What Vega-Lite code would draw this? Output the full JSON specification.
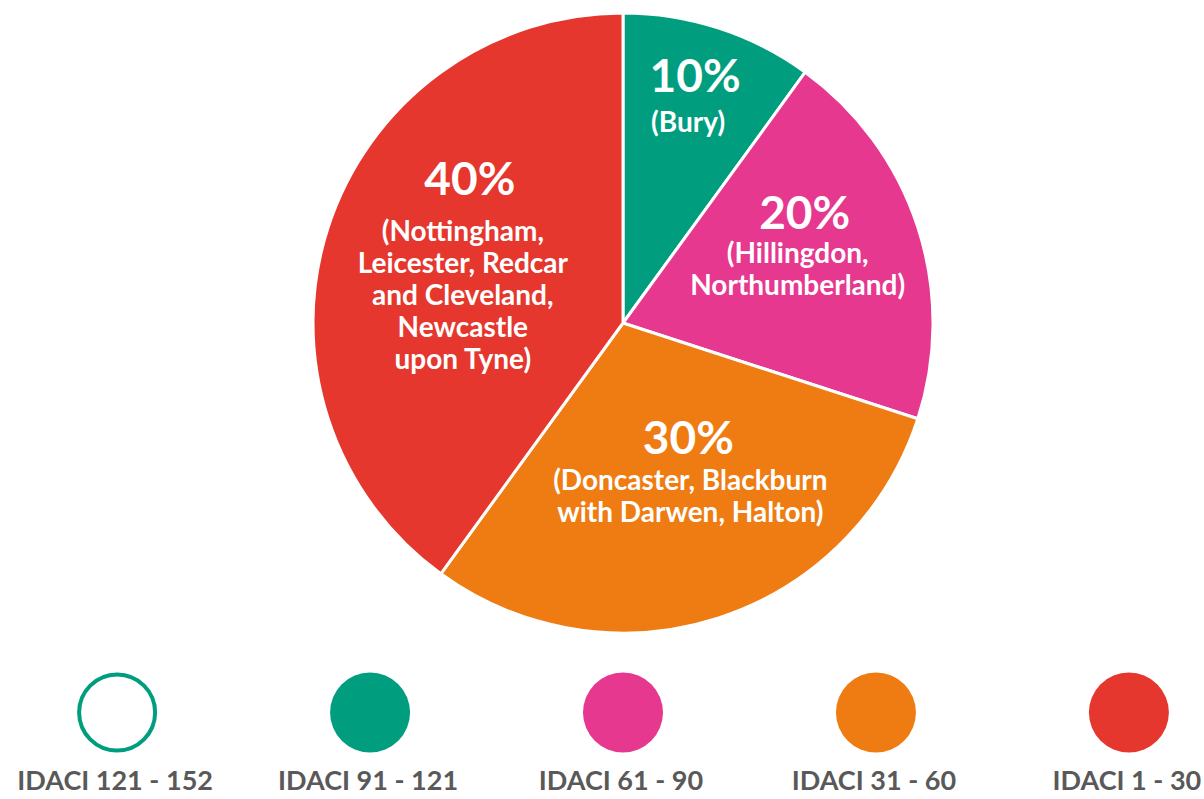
{
  "$schema": "https://vega.github.io/schema/vega-lite/v6.json",
  "background": "white",
  "padding": 0,
  "spacing": 0,
  "config": {"view": {"stroke": null}, "font": "Lato"},
  "datasets": {
    "idaci": [
      {"group": "IDACI 121 - 152", "pct": 0, "label": "0%", "areas": []},
      {"group": "IDACI 91 - 121", "pct": 10, "label": "10%", "areas": ["(Bury)"]},
      {"group": "IDACI 61 - 90", "pct": 20, "label": "20%", "areas": ["(Hillingdon,", "Northumberland)"]},
      {"group": "IDACI 31 - 60", "pct": 30, "label": "30%", "areas": ["(Doncaster, Blackburn", "with Darwen, Halton)"]},
      {"group": "IDACI 1 - 30", "pct": 40, "label": "40%", "areas": ["(Nottingham,", "Leicester, Redcar", "and Cleveland,", "Newcastle", "upon Tyne)"]}
    ]
  },
  "vconcat": [
    {
      "width": 1204,
      "height": 646,
      "data": {"name": "idaci"},
      "transform": [{"filter": "datum.pct > 0"}],
      "encoding": {
        "theta": {"field": "pct", "type": "quantitative", "stack": true},
        "order": {"field": "pct", "type": "quantitative"}
      },
      "layer": [
        {
          "mark": {"type": "arc", "outerRadius": 310, "stroke": "white", "strokeWidth": 3, "xOffset": 21},
          "encoding": {
            "fill": {
              "field": "group", "type": "nominal", "legend": null,
              "scale": {
                "domain": ["IDACI 121 - 152", "IDACI 91 - 121", "IDACI 61 - 90", "IDACI 31 - 60", "IDACI 1 - 30"],
                "range": ["#ffffff", "#009E7F", "#E6388F", "#EF7C12", "#E5372D"]
              }
            }
          }
        },
        {
          "mark": {"type": "text", "radius": 230, "xOffset": 21, "dx": 1, "dy": -26, "fontSize": 46, "fontWeight": "bold", "fill": "white", "align": "center", "baseline": "middle"},
          "encoding": {"text": {"condition": {"test": "datum.pct == 10", "field": "label"}, "value": ""}}
        },
        {
          "mark": {"type": "text", "radius": 230, "xOffset": 21, "dx": -6, "dy": 20, "fontSize": 28, "lineHeight": 32, "fontWeight": "bold", "fill": "white", "align": "center", "baseline": "middle"},
          "encoding": {"text": {"condition": {"test": "datum.pct == 10", "field": "areas"}, "value": ""}}
        },
        {
          "mark": {"type": "text", "radius": 190, "xOffset": 21, "dx": 1, "dy": -49, "fontSize": 46, "fontWeight": "bold", "fill": "white", "align": "center", "baseline": "middle"},
          "encoding": {"text": {"condition": {"test": "datum.pct == 20", "field": "label"}, "value": ""}}
        },
        {
          "mark": {"type": "text", "radius": 190, "xOffset": 21, "dx": -6, "dy": -9, "fontSize": 28, "lineHeight": 32, "fontWeight": "bold", "fill": "white", "align": "center", "baseline": "middle"},
          "encoding": {"text": {"condition": {"test": "datum.pct == 20", "field": "areas"}, "value": ""}}
        },
        {
          "mark": {"type": "text", "radius": 150, "xOffset": 21, "dx": 19, "dy": -26, "fontSize": 46, "fontWeight": "bold", "fill": "white", "align": "center", "baseline": "middle"},
          "encoding": {"text": {"condition": {"test": "datum.pct == 30", "field": "label"}, "value": ""}}
        },
        {
          "mark": {"type": "text", "radius": 150, "xOffset": 21, "dx": 21, "dy": 16, "fontSize": 28, "lineHeight": 32, "fontWeight": "bold", "fill": "white", "align": "center", "baseline": "middle"},
          "encoding": {"text": {"condition": {"test": "datum.pct == 30", "field": "areas"}, "value": ""}}
        },
        {
          "mark": {"type": "text", "radius": 160, "xOffset": 21, "dx": -1, "dy": -93, "fontSize": 46, "fontWeight": "bold", "fill": "white", "align": "center", "baseline": "middle"},
          "encoding": {"text": {"condition": {"test": "datum.pct == 40", "field": "label"}, "value": ""}}
        },
        {
          "mark": {"type": "text", "radius": 160, "xOffset": 21, "dx": -8, "dy": -41, "fontSize": 28, "lineHeight": 32, "fontWeight": "bold", "fill": "white", "align": "center", "baseline": "middle"},
          "encoding": {"text": {"condition": {"test": "datum.pct == 40", "field": "areas"}, "value": ""}}
        }
      ]
    },
    {
      "width": 1204,
      "height": 153,
      "data": {"name": "idaci"},
      "encoding": {
        "x": {
          "field": "group", "type": "nominal", "axis": null,
          "scale": {
            "type": "point", "padding": 0.38,
            "domain": ["IDACI 121 - 152", "IDACI 91 - 121", "IDACI 61 - 90", "IDACI 31 - 60", "IDACI 1 - 30"]
          }
        }
      },
      "layer": [
        {
          "transform": [{"filter": "datum.pct > 0"}],
          "mark": {"type": "point", "shape": "circle", "filled": true, "size": 6400, "opacity": 1, "strokeWidth": 0, "xOffset": 21, "yOffset": -10},
          "encoding": {
            "fill": {
              "field": "group", "type": "nominal", "legend": null,
              "scale": {
                "domain": ["IDACI 121 - 152", "IDACI 91 - 121", "IDACI 61 - 90", "IDACI 31 - 60", "IDACI 1 - 30"],
                "range": ["#ffffff", "#009E7F", "#E6388F", "#EF7C12", "#E5372D"]
              }
            }
          }
        },
        {
          "transform": [{"filter": "datum.pct == 0"}],
          "mark": {"type": "point", "shape": "circle", "filled": false, "size": 5776, "opacity": 1, "stroke": "#009E7F", "strokeWidth": 4, "xOffset": 21, "yOffset": -10},
          "encoding": {}
        },
        {
          "mark": {"type": "text", "fontSize": 27, "fontWeight": "bold", "fill": "#595959", "align": "center", "baseline": "alphabetic", "xOffset": 19, "yOffset": 67.5},
          "encoding": {"text": {"field": "group"}}
        }
      ]
    }
  ]
}
